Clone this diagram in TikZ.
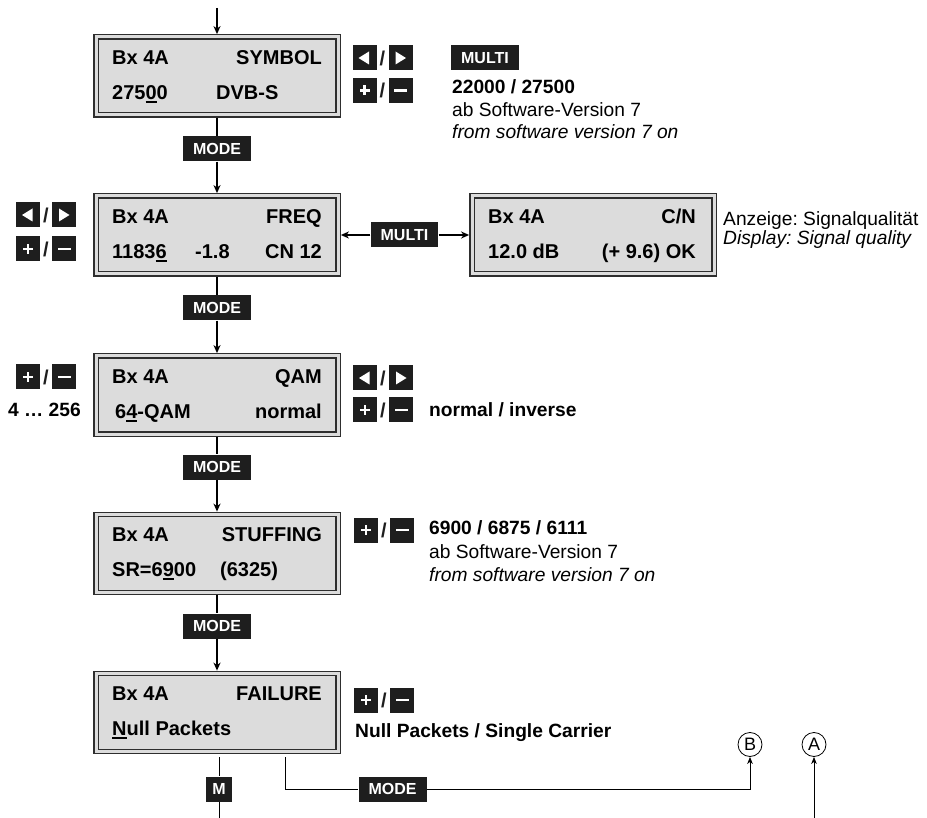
\documentclass[tikz,border=0pt]{standalone}
\usepackage{fontspec}
\setmainfont{Liberation Sans}
\usetikzlibrary{arrows.meta,calc}
\definecolor{boxgray}{HTML}{DCDCDC}
\definecolor{keyblack}{HTML}{1E1E1E}
\definecolor{edgecol}{HTML}{2E2E2E}
\frenchspacing
\newcommand\uln[1]{\setbox0\hbox{#1}\rlap{\rule[-3.6pt]{\wd0}{1.8pt}}\box0\relax}
\newcommand\arrowkeys[3]{%
  \node[keysty] (#1L) at (#2,#3) {};
  \node[keysty] (#1R) at (#2+36,#3) {};
  \node[slashsty] (#1S) at (#2+18,#3) {/};
  \fill[white] ([shift={(-6pt,0pt)}]#1L.center) -- ++(10.5pt,6.5pt) -- ++(0pt,-13pt) -- cycle;
  \fill[white] ([shift={(5.5pt,0pt)}]#1R.center) -- ++(-10.5pt,6.5pt) -- ++(0pt,-13pt) -- cycle;
}
\newcommand\pmkeys[3]{%
  \node[keysty] (#1L) at (#2,#3) {};
  \node[keysty] (#1R) at (#2+36,#3) {};
  \node[slashsty] (#1S) at (#2+18,#3) {/};
  \fill[white] ([shift={(-5pt,-1.4pt)}]#1L.center) rectangle ([shift={(5pt,1.4pt)}]#1L.center);
  \fill[white] ([shift={(-1.4pt,-5pt)}]#1L.center) rectangle ([shift={(1.4pt,5pt)}]#1L.center);
  \fill[white] ([shift={(-6.5pt,-1.4pt)}]#1R.center) rectangle ([shift={(6.5pt,1.4pt)}]#1R.center);
}
\begin{document}
\begin{tikzpicture}[x=1pt,y=-1pt,
  lcd/.style={draw=edgecol, line width=1.4pt, double=boxgray, double distance=3pt,
    fill=boxgray, minimum width=242pt, minimum height=78pt, inner sep=0pt, outer sep=2.9pt},
  boxtxt/.style={font=\bfseries\fontsize{20}{24}\selectfont, inner sep=0pt,
    text height=14.3pt, text depth=0pt},
  side/.style={font=\fontsize{19.2}{22}\selectfont, inner sep=0pt, anchor=west,
    text height=13.8pt, text depth=0pt},
  sideb/.style={side, font=\bfseries\fontsize{19.2}{22}\selectfont},
  sidei/.style={side, font=\itshape\fontsize{19.2}{22}\selectfont},
  lbl/.style={fill=keyblack, text=white, font=\bfseries\fontsize{16}{16}\selectfont,
    inner xsep=10pt, inner ysep=0pt, minimum height=25pt, text height=11.5pt, text depth=0pt},
  keysty/.style={fill=keyblack, minimum width=24pt, minimum height=25pt, inner sep=0pt},
  slashsty/.style={font=\bfseries\fontsize{20}{20}\selectfont, inner sep=0pt, text=keyblack},
  conn/.style={draw=black, line width=1.5pt},
  arr/.style={-{Stealth[length=8pt,width=7pt,inset=2.5pt]}},
  thinconn/.style={draw=black, line width=0.9pt},
  thinarr/.style={-{Stealth[length=7pt,width=5.5pt,inset=2pt]}},
  circ/.style={circle, draw=black, line width=0.8pt, minimum size=24pt, inner sep=0pt,
    font=\fontsize{18}{18}\selectfont}
]
\useasboundingbox[fill=white] (0,0) rectangle (927,818);

% ---- LCD boxes ----
\node[lcd] (b1) at (217,76) {};
\node[lcd] (b2) at (217,235) {};
\node[lcd] (bcn) at (593,235) {};
\node[lcd] (b3) at (217,395) {};
\node[lcd] (b4) at (217,553.5) {};
\node[lcd] (b5) at (217,712.5) {};

% box 1
\node[boxtxt, anchor=west] (t1a) at (112,57) {Bx 4A};
\node[boxtxt, anchor=east] (t1b) at (322,57) {SYMBOL};
\node[boxtxt, anchor=west] (t1c) at (112,92) {275\uln{0}0};
\node[boxtxt, anchor=west] (t1d) at (216,92) {DVB-S};
% box 2
\node[boxtxt, anchor=west] (t2a) at (112,216) {Bx 4A};
\node[boxtxt, anchor=east] (t2b) at (322,216) {FREQ};
\node[boxtxt, anchor=west] (t2c) at (112,251) {1183\uln{6}};
\node[boxtxt, anchor=west] (t2d) at (195,251) {-1.8};
\node[boxtxt, anchor=east] (t2e) at (322,251) {CN 12};
% C/N box
\node[boxtxt, anchor=west] (tca) at (488,216) {Bx 4A};
\node[boxtxt, anchor=east] (tcb) at (696,216) {C/N};
\node[boxtxt, anchor=west] (tcc) at (488,251) {12.0 dB};
\node[boxtxt, anchor=east] (tcd) at (696,251) {(+ 9.6) OK};
% box 3
\node[boxtxt, anchor=west] (t3a) at (112,376) {Bx 4A};
\node[boxtxt, anchor=east] (t3b) at (322,376) {QAM};
\node[boxtxt, anchor=west] (t3c) at (115,411) {6\uln{4}-QAM};
\node[boxtxt, anchor=east] (t3d) at (322,411) {normal};
% box 4
\node[boxtxt, anchor=west] (t4a) at (112,534.5) {Bx 4A};
\node[boxtxt, anchor=east] (t4b) at (322,534.5) {STUFFING};
\node[boxtxt, anchor=west] (t4c) at (112,569.5) {SR=6\uln{9}00};
\node[boxtxt, anchor=west] (t4d) at (220,569.5) {(6325)};
% box 5
\node[boxtxt, anchor=west] (t5a) at (112,693.5) {Bx 4A};
\node[boxtxt, anchor=east] (t5b) at (322,693.5) {FAILURE};
\node[boxtxt, anchor=west] (t5c) at (112,728.5) {\uln{N}ull Packets};

% ---- keys ----
\arrowkeys{ka1}{364.5}{58}
\pmkeys{kp1}{364.5}{90.5}
\arrowkeys{ka2}{28}{215}
\pmkeys{kp2}{28}{249}
\pmkeys{kp3}{28}{377}
\arrowkeys{ka3}{365}{378}
\pmkeys{kp3r}{365}{410}
\pmkeys{kp4}{366}{530}
\pmkeys{kp5}{366}{700}

% ---- side texts ----
\node[lbl] (multitop) at (485,58) {MULTI};
\node[sideb] (s1a) at (452,87) {22000 / 27500};
\node[side] (s1b) at (452,110) {ab Software-Version 7};
\node[sidei] (s1c) at (452,132) {from software version 7 on};

\node[side] (scn1) at (723,219) {Anzeige: Signalqualität};
\node[sidei] (scn2) at (723,238) {Display: Signal quality};

\node[sideb, anchor=east] (s3a) at (81,410) {4 … 256};
\node[sideb] (s3b) at (429,410) {normal / inverse};

\node[sideb] (s4a) at (429,528) {6900 / 6875 / 6111};
\node[side] (s4b) at (429,552) {ab Software-Version 7};
\node[sidei] (s4c) at (429,575) {from software version 7 on};

\node[sideb] (s5a) at (355,731) {Null Packets / Single Carrier};

% ---- connectors ----
\coordinate (top) at (217,8);
\draw[conn,arr] (top) -- (b1);

\node[lbl] (m1) at (217,149) {MODE};
\draw[conn] (b1) -- (m1);
\draw[conn,arr] (m1) -- (b2);

\node[lbl] (mm) at (404.5,235) {MULTI};
\draw[conn,arr] (mm) -- (b2);
\draw[conn,arr] (mm) -- (bcn);

\node[lbl] (m2) at (217,308) {MODE};
\draw[conn] (b2) -- (m2);
\draw[conn,arr] (m2) -- (b3);

\node[lbl] (m3) at (217,467) {MODE};
\draw[conn] (b3) -- (m3);
\draw[conn,arr] (m3) -- (b4);

\node[lbl] (m4) at (217,626) {MODE};
\draw[conn] (b4) -- (m4);
\draw[conn,arr] (m4) -- (b5);

% bottom
\coordinate (mtop) at (219,757);
\coordinate (mbot) at (219,818);
\node[lbl, inner xsep=6pt] (mlab) at (219,789) {M};
\draw[thinconn] (mtop) -- (mlab);
\draw[thinconn] (mlab) -- (mbot);

\node[circ] (cB) at (750,744.5) {B};
\node[circ] (cA) at (814,744.5) {A};
\coordinate (rstart) at (285,757);
\node[lbl] (m5) at (392.5,789) {MODE};
\draw[thinconn] (rstart) |- (m5);
\draw[thinconn,thinarr] (m5) -| (cB);
\coordinate (abot) at (814,818);
\draw[thinconn,thinarr] (abot) -- (cA);
\end{tikzpicture}
\end{document}
